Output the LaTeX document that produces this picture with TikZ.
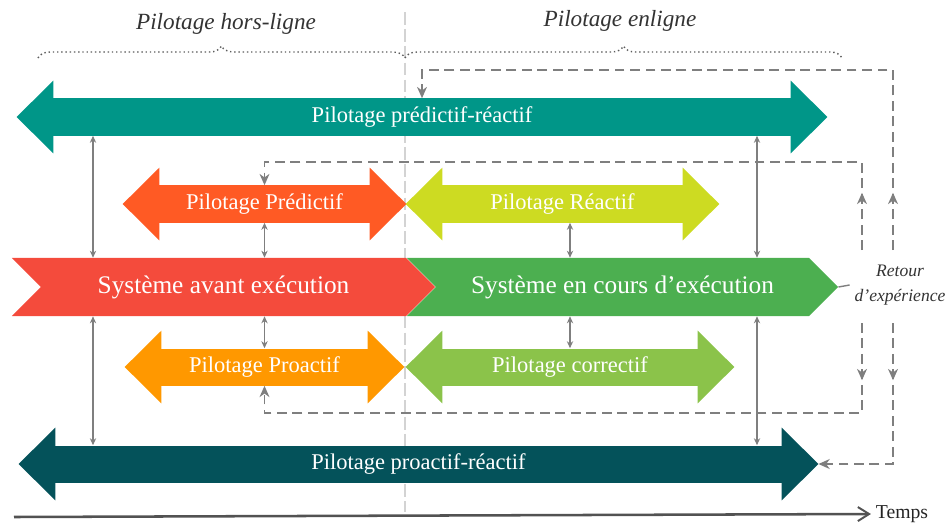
\documentclass[tikz,border=0pt]{standalone}
\usepackage{fontspec}
\setmainfont{Liberation Serif}
\usetikzlibrary{shapes.symbols, arrows.meta, decorations.pathreplacing, decorations.markings}

\definecolor{tealtop}{HTML}{009688}
\definecolor{predred}{HTML}{FF5A24}
\definecolor{reaclime}{HTML}{CDDB22}
\definecolor{proorange}{HTML}{FF9800}
\definecolor{corrgreen}{HTML}{8BC34A}
\definecolor{avantred}{HTML}{F44B3C}
\definecolor{coursgreen}{HTML}{4CAF50}
\definecolor{tealdark}{HTML}{04525A}
\definecolor{linkgray}{HTML}{7F7F7F}
\definecolor{divgray}{HTML}{D3D3D3}
\definecolor{txtgray}{HTML}{333333}

\tikzstyle{band} = [rectangle, inner sep=0pt, minimum height=0.925cm, text height=11pt, text depth=3.5pt, text=white, font=\fontsize{16}{18}\selectfont]
\tikzstyle{chevron} = [signal, signal to=east, signal from=west, signal pointer angle=90, minimum height=1.45cm, text=white, font=\fontsize{18}{20}\selectfont]
\tikzstyle{link} = [draw=linkgray, line width=1pt, {Stealth[length=5pt,width=4.5pt]}-{Stealth[length=5pt,width=4.5pt]}]
\tikzstyle{feedback} = [draw=linkgray, line width=1.4pt, dash pattern=on 7pt off 4pt, -{Stealth[length=8pt,width=7pt,inset=2.5pt]}]
\tikzstyle{brc} = [draw=txtgray!80, dotted, line width=1pt, decorate, decoration={brace, amplitude=0.3cm}]
\tikzstyle{title} = [text=txtgray, font=\itshape\fontsize{16.5}{18}\selectfont]
\tikzstyle{axis} = [draw=txtgray!85, line width=1.8pt, -{Straight Barb[length=8pt,width=10pt,line width=1.4pt]}]
\tikzset{midtip/.style={postaction={decorate}, decoration={markings, mark=at position #1 with {\arrow{Stealth[length=8pt,width=7pt,inset=2.5pt]}}}}}

% pointes d'une bande : nom, couleur
\newcommand{\bandheads}[2]{%
  \fill[#2] ([xshift=0.5pt]#1.north west) -- ++(0cm,0.44cm) -- ([xshift=-0.9cm]#1.west)
    -- ([xshift=0.5pt,yshift=-0.44cm]#1.south west) -- ([xshift=0.5pt]#1.south west) -- cycle;
  \fill[#2] ([xshift=-0.5pt]#1.north east) -- ++(0cm,0.44cm) -- ([xshift=0.9cm]#1.east)
    -- ([xshift=-0.5pt,yshift=-0.44cm]#1.south east) -- ([xshift=-0.5pt]#1.south east) -- cycle;}

\begin{document}
\begin{tikzpicture}[x=0.025cm, y=-0.025cm]
    \useasboundingbox (0,0) rectangle (949,527);

    % hors-ligne / en ligne
    \draw[divgray, line width=1.2pt, dash pattern=on 9pt off 3pt] (405,12) -- (405,512);
    \draw[brc] (38,58) -- (405,58);
    \draw[brc] (405,58) -- (842,58);
    \node (offline) [title] at (226,24) {Pilotage hors-ligne};
    \node (online) [title] at (620,21) {Pilotage enligne};

    % bandes
    \node (predreac) [band, fill=tealtop, minimum width=18.45cm] at (422,117) {Pilotage prédictif-réactif};
    \bandheads{predreac}{tealtop}
    \node (predictif) [band, fill=predred, minimum width=5.275cm] at (264.5,204) {Pilotage Prédictif};
    \bandheads{predictif}{predred}
    \node (reactif) [band, fill=reaclime, minimum width=6.025cm] at (562.5,204) {Pilotage Réactif};
    \bandheads{reactif}{reaclime}
    \node (encours) [chevron, fill=coursgreen, minimum width=10.775cm] at (622.5,287) {Système en cours d’exécution};
    \node (avant) [chevron, fill=avantred, minimum width=10.575cm] at (223.5,287) {Système avant exécution};
    \node (proactif) [band, fill=proorange, minimum width=5.175cm] at (264.5,367) {Pilotage Proactif};
    \bandheads{proactif}{proorange}
    \node (correctif) [band, fill=corrgreen, minimum width=6.4cm] at (570,367) {Pilotage correctif};
    \bandheads{correctif}{corrgreen}
    \node (proreac) [band, fill=tealdark, minimum width=18.175cm] at (418.5,464) {Pilotage proactif-réactif};
    \bandheads{proreac}{tealdark}

    \node (retour) [text=txtgray, font=\itshape\fontsize{12.5}{18}\selectfont, align=center] at (900,285) {Retour\\d’expérience};

    % liens
    \draw[link] (93,0 |- predreac.south) -- (93,0 |- avant.north);
    \draw[link] (93,0 |- avant.south) -- (93,0 |- proreac.north);
    \draw[link] (757,0 |- predreac.south) -- (757,0 |- encours.north);
    \draw[link] (757,0 |- encours.south) -- (757,0 |- proreac.north);
    \draw[link] (predictif.south) -- (predictif.south |- avant.north);
    \draw[link] (proactif.north) -- (proactif.north |- avant.south);
    \draw[link] (correctif.north |- reactif.south) -- (correctif.north |- encours.north);
    \draw[link] (correctif.north) -- (correctif.north |- encours.south);
    \draw[linkgray, line width=1pt] (encours.east) -- (retour.west);

    % retour d'experience
    \coordinate (fbo1) at (893,250);
    \coordinate (fbo2) at (893,70);
    \coordinate (fbi1) at (862,250);
    \coordinate (fbi2) at (862,162);
    \coordinate (fbi3) at (862,323);
    \coordinate (fbi4) at (862,413);
    \coordinate (fbo3) at (893,323);
    \coordinate (fbo4) at (893,464);
    \draw[feedback, midtip=1.43cm] (fbo1) -- (fbo2) -| (predreac.north);
    \draw[feedback, midtip=1.43cm] (fbi1) -- (fbi2) -| (predictif.north);
    \draw[feedback, midtip=1.43cm] (fbi3) -- (fbi4) -| (proactif.south);
    \draw[feedback, midtip=1.43cm] (fbo3) -- (fbo4) -- ([xshift=0.9cm]proreac.east);

    % temps
    \coordinate (t0) at (14,517);
    \node (temps) [text=txtgray!70!black, font=\fontsize{14}{16}\selectfont] at (902,514) {Temps};
    \draw[axis] (t0) -- (temps.west);
\end{tikzpicture}
\end{document}
